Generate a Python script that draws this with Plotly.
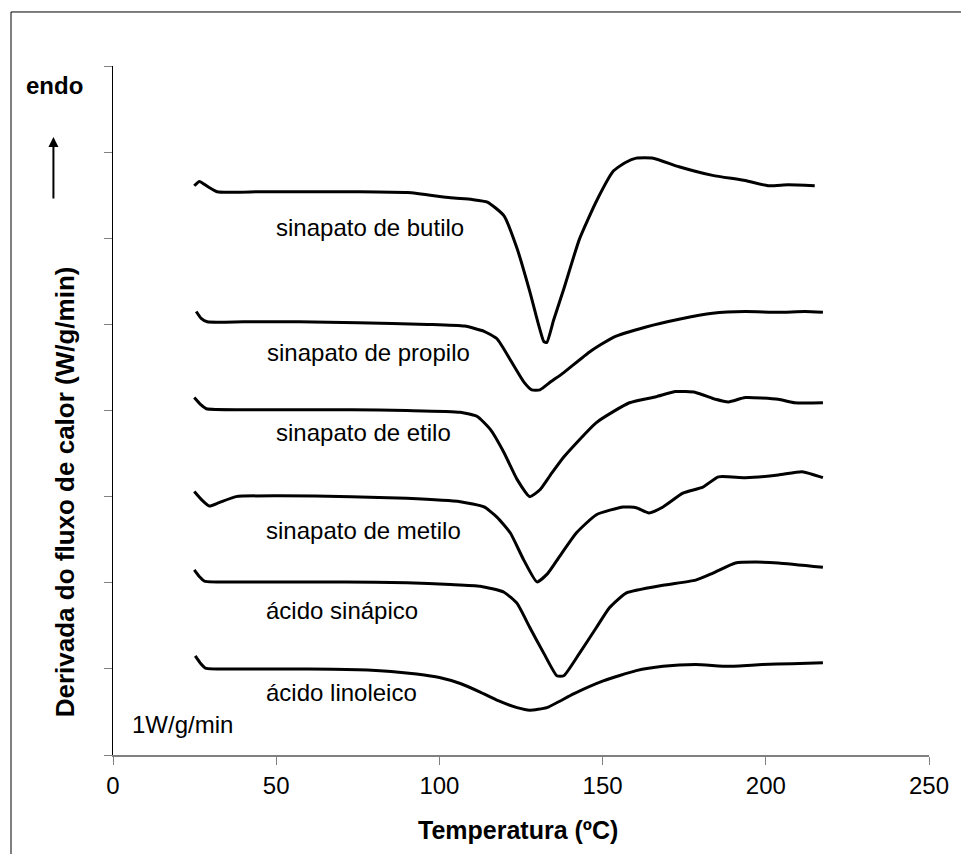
import plotly.graph_objects as go

FONT = "Liberation Sans, Arial, sans-serif"

# Temperatures (°C) and derivative heat flow (offset units, 1 unit = 1 W/g/min)
butilo_T = [24.9, 26.5, 29.0, 31.9, 45.0, 60.0, 75.0, 90.3, 103.4, 110.0, 114.7, 119.8, 123.8,
            127.7, 130.5, 132.0, 132.9, 135.0, 138.1, 142.9, 148.1, 153.3, 157.0, 160.3, 165.5,
            173.4, 183.7, 193.7, 200.7, 206.8, 215.0]
butilo_Y = [6.61, 6.66, 6.60, 6.54, 6.54, 6.54, 6.54, 6.53, 6.47, 6.45, 6.42, 6.26, 5.88,
            5.38, 4.98, 4.80, 4.79, 5.05, 5.41, 5.99, 6.43, 6.78, 6.88, 6.93, 6.93,
            6.83, 6.73, 6.67, 6.61, 6.62, 6.61]

propilo_T = [25.5, 27.0, 28.9, 40.0, 56.9, 75.0, 96.4, 107.7, 113.7, 117.7, 121.7, 125.9,
             128.3, 130.8, 134.0, 138.1, 146.0, 153.3, 163.3, 173.4, 183.7, 193.7, 203.8,
             212.0, 217.5]
propilo_Y = [5.15, 5.07, 5.03, 5.03, 5.03, 5.02, 5.00, 4.98, 4.92, 4.83, 4.59, 4.33,
             4.24, 4.24, 4.33, 4.44, 4.68, 4.85, 4.97, 5.06, 5.13, 5.15, 5.14,
             5.15, 5.14]

etilo_T = [24.9, 26.8, 28.6, 45.0, 73.0, 90.0, 106.4, 111.6, 115.6, 119.8, 123.8, 127.7,
           130.8, 134.0, 138.1, 148.1, 158.2, 166.4, 172.4, 178.5, 184.6, 188.6, 193.7,
           203.8, 208.9, 217.5]
etilo_Y = [4.15, 4.07, 4.02, 4.01, 4.01, 4.00, 3.98, 3.93, 3.78, 3.51, 3.20, 3.00,
           3.08, 3.25, 3.46, 3.86, 4.09, 4.16, 4.22, 4.21, 4.13, 4.10, 4.15,
           4.13, 4.09, 4.09]

metilo_T = [24.9, 27.5, 29.5, 32.5, 37.7, 50.8, 73.0, 90.0, 106.4, 113.7, 117.7, 121.7,
            125.9, 129.9, 133.0, 136.0, 142.0, 148.1, 156.3, 160.3, 164.2, 168.5, 174.6,
            180.7, 185.5, 193.7, 203.8, 211.1, 217.5]
metilo_Y = [3.06, 2.95, 2.89, 2.93, 3.00, 3.01, 3.00, 2.98, 2.94, 2.88, 2.76, 2.58,
            2.26, 2.01, 2.10, 2.26, 2.58, 2.79, 2.88, 2.87, 2.81, 2.88, 3.04,
            3.11, 3.23, 3.22, 3.25, 3.29, 3.22]

sinapico_T = [24.9, 26.5, 28.0, 45.0, 71.2, 90.0, 103.4, 112.5, 119.8, 123.8, 127.7, 132.0,
              136.0, 138.1, 142.9, 148.1, 152.1, 157.2, 168.5, 178.5, 183.7, 190.7, 196.8,
              203.8, 217.5]
sinapico_Y = [2.15, 2.07, 2.02, 2.01, 2.01, 2.00, 1.98, 1.96, 1.89, 1.76, 1.48, 1.18,
              0.92, 0.92, 1.18, 1.48, 1.71, 1.88, 1.97, 2.03, 2.11, 2.23, 2.24,
              2.23, 2.18]

linoleico_T = [25.2, 26.7, 28.3, 45.0, 60.0, 75.1, 85.2, 93.0, 100.0, 106.4, 112.5, 118.0,
               123.8, 127.7, 132.9, 141.1, 150.2, 160.3, 168.5, 178.5, 188.6, 198.9, 208.0,
               217.5]
linoleico_Y = [1.15, 1.07, 1.01, 1.00, 1.00, 0.99, 0.97, 0.94, 0.90, 0.83, 0.73, 0.63,
               0.55, 0.52, 0.55, 0.71, 0.86, 0.98, 1.03, 1.05, 1.03, 1.05, 1.06,
               1.07]

series = [
    ("sinapato de butilo", butilo_T, butilo_Y, 78.7, 6.13),
    ("sinapato de propilo", propilo_T, propilo_Y, 78.4, 4.67),
    ("sinapato de etilo", etilo_T, etilo_Y, 76.8, 3.75),
    ("sinapato de metilo", metilo_T, metilo_Y, 76.8, 2.61),
    ("ácido sinápico", sinapico_T, sinapico_Y, 70.1, 1.68),
    ("ácido linoleico", linoleico_T, linoleico_Y, 70.1, 0.72),
]

x_ticks = [0, 50, 100, 150, 200, 250]
y_ticks = [0, 1, 2, 3, 4, 5, 6, 7, 8]

fig = go.Figure()
annotations = []
for name, T, Y, lx, ly in series:
    fig.add_trace(go.Scatter(x=T, y=Y, mode="lines", name=name,
                             line=dict(color="black", width=3, shape="spline", smoothing=0.5),
                             showlegend=False, hoverinfo="skip"))
    annotations.append(dict(x=lx, y=ly, xref="x", yref="y", text=name, showarrow=False,
                            font=dict(family=FONT, size=24, color="black"),
                            xanchor="center", yanchor="middle"))

annotations.append(dict(x=21.3, y=0.35, xref="x", yref="y", text="1W/g/min", showarrow=False,
                        font=dict(family=FONT, size=24, color="black"),
                        xanchor="center", yanchor="middle"))
annotations.append(dict(x=-0.072, y=0.972, xref="paper", yref="paper", text="<b>endo</b>",
                        showarrow=False, font=dict(family=FONT, size=24, color="black"),
                        xanchor="center", yanchor="middle"))
annotations.append(dict(x=-0.073, y=0.897, xref="paper", yref="paper", text="",
                        showarrow=True, ax=0, ay=63, axref="pixel", ayref="pixel",
                        arrowhead=2, arrowsize=1, arrowwidth=2, arrowcolor="black"))
annotations.append(dict(x=-0.0585, y=0.3817, xref="paper", yref="paper",
                        text="<b>Derivada do fluxo de calor (W/g/min)</b>", textangle=-90,
                        showarrow=False, font=dict(family=FONT, size=26, color="black"),
                        xanchor="center", yanchor="middle"))
annotations.append(dict(x=0.496, y=-0.1089, xref="paper", yref="paper",
                        text="<b>Temperatura (ºC)</b>", showarrow=False,
                        font=dict(family=FONT, size=25, color="black"),
                        xanchor="center", yanchor="middle"))

fig.update_layout(
    width=961, height=854,
    margin=dict(l=113, r=28, t=66, b=99),
    paper_bgcolor="white", plot_bgcolor="white",
    annotations=annotations,
    shapes=[dict(type="rect", xref="paper", yref="paper", x0=-0.125, x1=1.2,
                 y0=-0.3, y1=1.0784, line=dict(color="black", width=1), layer="below")],
    font=dict(family=FONT, color="black"),
)
fig.update_xaxes(range=[0, 250], tickvals=x_ticks, ticktext=[str(v) for v in x_ticks],
                 showgrid=False, zeroline=False, showline=True, linecolor="#808080",
                 linewidth=2, ticks="outside", ticklen=8, tickcolor="#808080", tickwidth=1,
                 tickfont=dict(family=FONT, size=24, color="black"))
fig.update_yaxes(range=[0, 8], tickvals=y_ticks, showticklabels=False,
                 showgrid=False, zeroline=False, showline=True, linecolor="black",
                 linewidth=1, ticks="outside", ticklen=8, tickcolor="#808080", tickwidth=1)

fig.write_html("out.html")
